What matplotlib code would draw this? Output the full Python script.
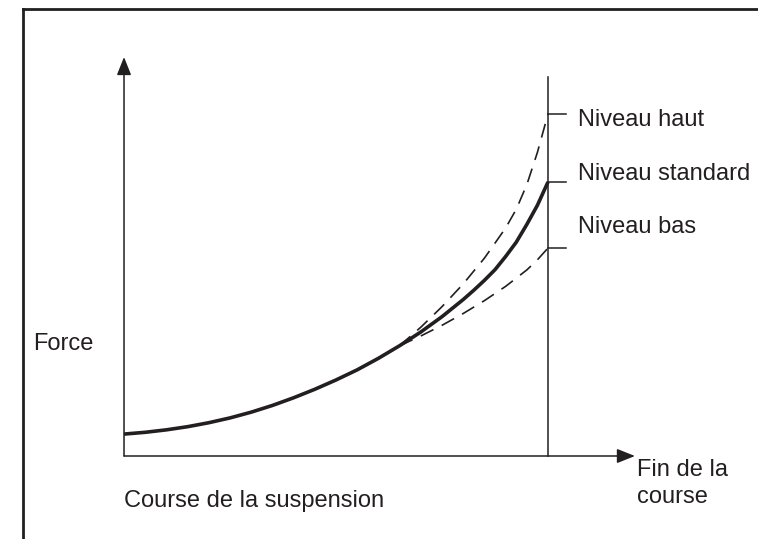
import matplotlib
matplotlib.use("Agg")
import matplotlib.pyplot as plt
from matplotlib.lines import Line2D

plt.rcParams['font.family'] = ['Liberation Sans', 'DejaVu Sans']

INK = '#231f20'

# Suspension travel (0 = start, 1 = end of travel) and spring force (1 = standard level at end)
travel_standard = [0.0, 0.05, 0.1, 0.15, 0.2, 0.25, 0.3, 0.35, 0.4, 0.45, 0.5,
                   0.55, 0.6, 0.65, 0.7, 0.75, 0.8, 0.825, 0.85, 0.875, 0.9,
                   0.925, 0.95, 0.975, 1.0]
force_standard = [0.080, 0.0865, 0.0955, 0.107, 0.1215, 0.139, 0.160, 0.1845, 0.2125, 0.2435, 0.2775,
                  0.3145, 0.3565, 0.4025, 0.4525, 0.5085, 0.571, 0.605, 0.641, 0.680, 0.728,
                  0.780, 0.845, 0.915, 1.0]

travel_high = [0.65, 0.7, 0.75, 0.8, 0.85, 0.9, 0.925, 0.95, 0.975, 1.0]
force_high = [0.4025, 0.470, 0.545, 0.628, 0.722, 0.832, 0.900, 0.990, 1.108, 1.248]

travel_low = [0.65, 0.7, 0.75, 0.8, 0.85, 0.9, 0.95, 0.975, 1.0]
force_low = [0.4025, 0.438, 0.477, 0.520, 0.567, 0.619, 0.679, 0.716, 0.759]

level_names = ['Niveau haut', 'Niveau standard', 'Niveau bas']
level_values = [force_high[-1], force_standard[-1], force_low[-1]]
level_label_y = [1.204, 1.007, 0.814]

fig = plt.figure(figsize=(7.58, 5.39), dpi=100)
ax = fig.add_axes([0, 0, 1, 1])
ax.set_xlim(-0.2925, 1.4953)
ax.set_ylim(-0.3029, 1.6642)
ax.axis('off')

# outer frame (top and left edges)
fig.add_artist(Line2D([23 / 758, 1.0], [1 - 9 / 539, 1 - 9 / 539], transform=fig.transFigure,
                      color=INK, lw=2.0, solid_capstyle='projecting'))
fig.add_artist(Line2D([23 / 758, 23 / 758], [1 - 9 / 539, 0.0], transform=fig.transFigure,
                      color=INK, lw=2.0, solid_capstyle='projecting'))

arrow_style = '-|>,head_length=0.55,head_width=0.22'
# force axis
ax.annotate('', xy=(0, 1.456), xytext=(0, 0),
            arrowprops=dict(arrowstyle=arrow_style, mutation_scale=20, lw=1.1,
                            color=INK, shrinkA=0, shrinkB=0))
# travel axis
ax.annotate('', xy=(1.205, 0), xytext=(0, 0),
            arrowprops=dict(arrowstyle=arrow_style, mutation_scale=20, lw=1.1,
                            color=INK, shrinkA=0, shrinkB=0))

# end-of-travel line with level ticks
ax.plot([1.0, 1.0], [0, 1.383], color=INK, lw=1.1)
for v in level_values:
    ax.plot([1.0, 1.0425], [v, v], color=INK, lw=1.1)

# force curves
ax.plot(travel_high, force_high, color=INK, lw=1.2, dashes=(8.5, 5.5))
ax.plot(travel_low, force_low, color=INK, lw=1.2, dashes=(8.5, 5.5))
ax.plot(travel_standard, force_standard, color=INK, lw=2.6,
        solid_capstyle='butt', solid_joinstyle='round')

fs = 17
for name, y in zip(level_names, level_label_y):
    ax.text(1.071, y, name, fontsize=fs, color=INK, ha='left', va='baseline')

ax.text(1.21, (456 - 476) / 274, 'Fin de la', fontsize=fs, color=INK, ha='left', va='baseline')
ax.text(1.21, (456 - 503) / 274, 'course', fontsize=fs, color=INK, ha='left', va='baseline')
ax.text(0.0, -0.186, 'Course de la suspension', fontsize=fs, color=INK, ha='left', va='baseline')
ax.text((33 - 124) / 424, (456 - 350) / 274, 'Force', fontsize=fs, color=INK, ha='left', va='baseline')

fig.savefig('out.png', dpi=100)
